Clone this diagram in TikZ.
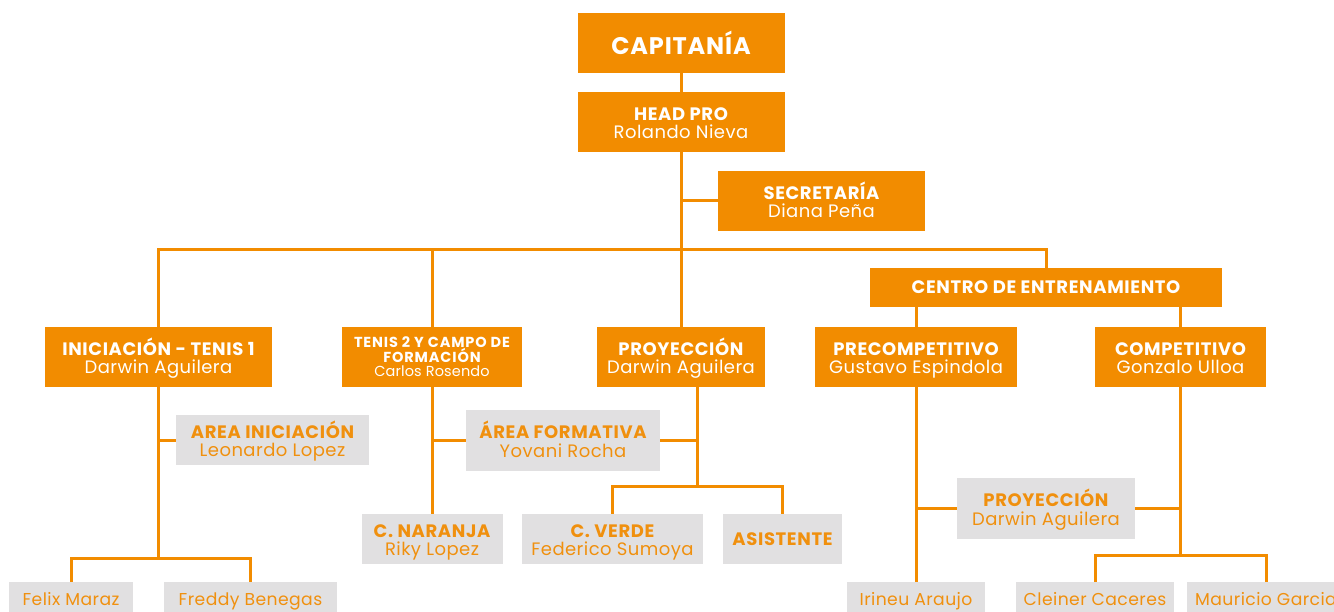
\documentclass[tikz,border=0pt]{standalone}
\usepackage{fontspec}
\setmainfont{Poppins}[LetterSpace=2.5, BoldFeatures={LetterSpace=3.5}]
\newfontfamily\tenf{Poppins}[LetterSpace=1, BoldFeatures={LetterSpace=6}]
\definecolor{org}{HTML}{F28C00}
\definecolor{gry}{HTML}{E1E0E1}
\definecolor{otx}{HTML}{F0900E}
\newcommand{\ttl}[1]{{\bfseries #1}}
\newcommand{\two}[2]{\rule{0pt}{20pt}\ttl{#1}\\#2\rule[-4.7pt]{0pt}{4.7pt}}
\begin{document}
\begin{tikzpicture}[x=1pt,y=-1pt,
  obox/.style={fill=org, text=white, inner sep=0pt, align=center, font=\fontsize{18}{18.3}\selectfont},
  gbox/.style={fill=gry, text=otx, inner sep=0pt, align=center, font=\fontsize{18}{18.3}\selectfont},
  bbox/.style={fill=gry, text=otx, inner sep=0pt, align=center, font=\fontsize{17.2}{20}\selectfont, minimum height=37pt, text height=13pt, text depth=4pt},
  ln/.style={draw=org, line width=3pt}]
\useasboundingbox (0,0) rectangle (1334,612);
\clip (0,0) rectangle (1334,612);
% top
\node[obox, minimum width=207pt, minimum height=60pt, font=\fontsize{24}{26}\selectfont] (cap) at (681,43) {\ttl{CAPITANÍA}};
\node[obox, minimum width=207pt, minimum height=60pt] (head) at (681,122) {\two{HEAD PRO}{Rolando Nieva}};
\node[obox, minimum width=207pt, minimum height=60pt] (sec) at (821.5,201) {\two{SECRETARÍA}{Diana Peña}};
\node[obox, minimum width=352pt, minimum height=39pt] (centro) at (1046,287.5) {\ttl{CENTRO DE ENTRENAMIENTO}};
% level 2
\node[obox, minimum width=227pt, minimum height=60pt] (ini) at (158.5,357) {\two{INICIACIÓN - TENIS 1}{Darwin Aguilera}};
\node[obox, minimum width=180pt, minimum height=60pt, font=\tenf\fontsize{14.5}{14.5}\selectfont] (ten) at (432,357) {\rule{0pt}{15pt}\ttl{TENIS 2 Y CAMPO DE}\\\ttl{FORMACIÓN}\\Carlos Rosendo\rule[-4pt]{0pt}{4pt}};
\node[obox, minimum width=168pt, minimum height=60pt] (proy) at (681,357) {\two{PROYECCIÓN}{Darwin Aguilera}};
\node[obox, minimum width=202pt, minimum height=60pt] (prec) at (916,357) {\two{PRECOMPETITIVO}{Gustavo Espindola}};
\node[obox, minimum width=171pt, minimum height=60pt] (comp) at (1180.5,357) {\two{COMPETITIVO}{Gonzalo Ulloa}};
% gray boxes
\node[gbox, minimum width=193pt, minimum height=50pt] (aini) at (272.5,440) {\two{AREA INICIACIÓN}{Leonardo Lopez}};
\node[gbox, minimum width=194pt, minimum height=61pt] (afor) at (563,440.5) {\two{ÁREA FORMATIVA}{Yovani Rocha}};
\node[gbox, minimum width=141pt, minimum height=50pt] (nar) at (432,539) {\two{C. NARANJA}{Riky Lopez}};
\node[gbox, minimum width=181pt, minimum height=50pt] (verde) at (612.5,539) {\two{C. VERDE}{Federico Sumoya}};
\node[gbox, minimum width=119pt, minimum height=50pt] (asis) at (782.5,539) {\ttl{ASISTENTE}};
\node[gbox, minimum width=178pt, minimum height=61pt] (proy2) at (1046,508.5) {\two{PROYECCIÓN}{Darwin Aguilera}};
% bottom
\node[bbox, minimum width=124pt] (felix) at (71,600.5) {Felix Maraz};
\node[bbox, minimum width=173pt] (fred) at (250.5,600.5) {Freddy Benegas};
\node[bbox, minimum width=138pt] (iri) at (916,600.5) {Irineu Araujo};
\node[bbox, minimum width=158pt] (clei) at (1095,600.5) {Cleiner Caceres};
\node[bbox, minimum width=158pt] (mau) at (1266,600.5) {Mauricio Garcia};
% coordinates
\coordinate (bus) at (0,250);
\coordinate (j1) at (158.5,558);
\coordinate (pd) at (697,387);
\coordinate (j2) at (697,486);
\coordinate (j3) at (1180.5,555);
% connectors
\draw[ln] (cap.south) -- (head.north);
\draw[ln] (head.south) -- (proy.north);
\draw[ln] (head.south |- sec.west) -- (sec.west);
\draw[ln] (ini.north) |- (bus -| centro.north) -- (centro.north);
\draw[ln] (ten.north) -- (ten.north |- bus);
\draw[ln] (prec.north |- centro.south) -- (prec.north);
\draw[ln] (comp.north |- centro.south) -- (comp.north);
\draw[ln] (ini.south) -- (j1);
\draw[ln] (felix.north) |- (j1) -| (fred.north);
\draw[ln] (aini.west -| ini.south) -- (aini.west);
\draw[ln] (ten.south) -- (nar.north);
\draw[ln] (afor.west -| ten.south) -- (afor.west);
\draw[ln] (afor.east) -- (afor.east -| pd);
\draw[ln] (pd) -- (j2);
\draw[ln] (verde.north) |- (j2) -| (asis.north);
\draw[ln] (prec.south) -- (iri.north);
\draw[ln] (proy2.west -| prec.south) -- (proy2.west);
\draw[ln] (proy2.east) -- (proy2.east -| comp.south);
\draw[ln] (comp.south) -- (j3);
\draw[ln] (clei.north) |- (j3) -| (mau.north);
\end{tikzpicture}
\end{document}
